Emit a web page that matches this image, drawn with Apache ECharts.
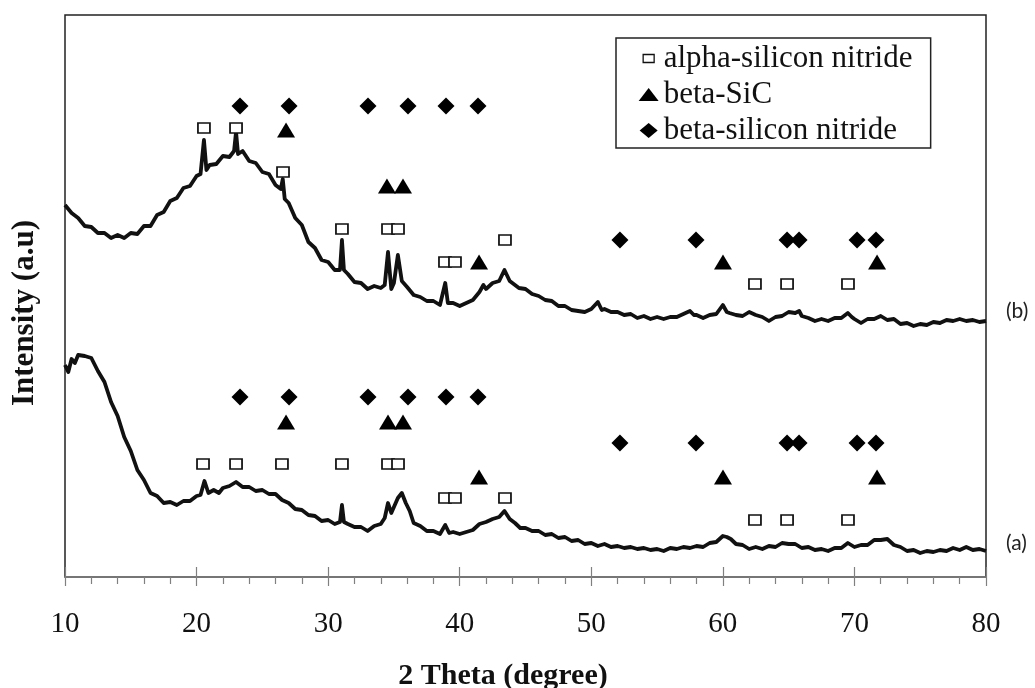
<!DOCTYPE html>
<html>
<head>
<meta charset="utf-8">
<script src="https://cdn.jsdelivr.net/npm/echarts@6/dist/echarts.min.js"></script>
<style>
html,body{margin:0;padding:0;background:#fff;}
#chart{width:1035px;height:688px;}
</style>
</head>
<body>
<div id="chart"></div>
<script>
// ---- data (2-theta in degrees, intensity in arbitrary units) ----
var xTicks = [10, 20, 30, 40, 50, 60, 70, 80];

var curveB = [[10.0,372],[10.5,364],[11.0,359],[11.5,351],[12.0,350],[12.5,344],[13.0,344],[13.5,339],[14.0,342],[14.5,339],[15.0,344],[15.5,343],[16.0,351],[16.5,351],[17.0,362],[17.5,365],[18.0,376],[18.5,379],[19.0,389],[19.5,391],[20.0,401],[20.3,403],[20.56,437],[20.75,407],[21.0,412],[21.5,413],[22.0,421],[22.5,420],[22.85,426],[23.0,445],[23.15,423],[23.5,426],[24.0,416],[24.5,414],[25.0,405],[25.5,403],[26.0,392],[26.4,388],[26.55,398],[26.7,378],[27.0,374],[27.5,359],[28.0,352],[28.5,335],[29.0,329],[29.5,317],[30.0,315],[30.5,307],[30.9,307],[31.05,337],[31.2,307],[31.5,303],[32.0,295],[32.5,294],[33.0,288],[33.5,291],[34.0,289],[34.3,292],[34.55,325],[34.8,288],[35.0,294],[35.3,322],[35.6,296],[36.0,290],[36.5,282],[37.0,280],[37.5,276],[38.0,276],[38.5,272],[38.9,294],[39.1,274],[39.5,274],[40.0,271],[40.5,274],[41.0,277],[41.5,285],[41.8,292],[42.0,288],[42.5,294],[43.0,296],[43.4,307],[43.8,296],[44.2,292],[44.5,289],[45.0,288],[45.5,283],[46.0,281],[46.5,277],[47.0,276],[47.5,271],[48.0,271],[48.5,267],[49.0,266],[49.5,265],[50.0,268],[50.5,275],[50.8,267],[51.0,268],[51.5,265],[52.0,265],[52.5,262],[53.0,263],[53.5,259],[54.0,261],[54.5,258],[55.0,260],[55.5,258],[56.0,260],[56.5,260],[57.0,263],[57.5,266],[57.8,262],[58.0,262],[58.5,259],[59.0,262],[59.5,263],[60.0,272],[60.3,265],[60.5,264],[61.0,262],[61.5,261],[62.0,265],[62.5,262],[63.0,260],[63.5,256],[64.0,260],[64.5,261],[65.0,265],[65.5,264],[65.8,266],[66.0,261],[66.5,259],[67.0,256],[67.5,258],[68.0,256],[68.5,259],[69.0,259],[69.5,264],[69.8,260],[70.0,258],[70.5,254],[71.0,258],[71.5,258],[72.0,261],[72.5,257],[73.0,258],[73.5,253],[74.0,254],[74.5,251],[75.0,253],[75.5,252],[76.0,255],[76.5,254],[77.0,257],[77.5,256],[78.0,258],[78.5,256],[79.0,257],[79.5,255],[80.0,256]];

var curveA = [[10.0,212],[10.25,205],[10.5,218],[10.75,214],[11.0,222],[11.5,221],[12.0,219],[12.5,206],[13.0,195],[13.5,175],[14.0,161],[14.5,140],[15.0,126],[15.5,107],[16.0,97],[16.5,84],[17.0,81],[17.5,74],[18.0,75],[18.5,72],[19.0,76],[19.5,76],[20.0,81],[20.3,82],[20.6,96],[20.9,84],[21.3,87],[21.7,84],[22.0,89],[22.5,91],[23.0,95],[23.5,90],[24.0,90],[24.5,86],[25.0,87],[25.5,83],[26.0,83],[26.5,77],[27.0,74],[27.5,68],[28.0,67],[28.5,62],[29.0,61],[29.5,56],[30.0,57],[30.5,53],[30.9,55],[31.05,72],[31.2,55],[31.5,53],[32.0,50],[32.5,50],[33.0,46],[33.5,51],[34.0,53],[34.3,59],[34.55,74],[34.8,64],[35.0,70],[35.3,79],[35.6,84],[35.9,74],[36.2,66],[36.5,54],[37.0,51],[37.5,46],[38.0,46],[38.5,43],[38.9,52],[39.2,44],[39.5,45],[40.0,43],[40.5,45],[41.0,47],[41.5,53],[42.0,55],[42.5,58],[43.0,60],[43.4,66],[43.8,58],[44.2,54],[44.6,49],[45.0,49],[45.5,46],[46.0,46],[46.5,42],[47.0,43],[47.5,39],[48.0,40],[48.5,36],[49.0,37],[49.5,33],[50.0,34],[50.5,31],[51.0,33],[51.5,30],[52.0,31],[52.5,29],[53.0,30],[53.5,28],[54.0,29],[54.5,27],[55.0,28],[55.5,26],[56.0,29],[56.5,28],[57.0,30],[57.5,29],[58.0,31],[58.5,30],[59.0,34],[59.5,35],[60.0,41],[60.3,40],[60.6,38],[61.0,33],[61.5,32],[62.0,28],[62.5,30],[63.0,28],[63.5,31],[64.0,30],[64.5,34],[65.0,33],[65.5,33],[66.0,29],[66.5,30],[67.0,27],[67.5,28],[68.0,26],[68.5,29],[69.0,29],[69.5,34],[70.0,30],[70.5,32],[71.0,32],[71.5,37],[72.0,37],[72.5,38],[73.0,32],[73.5,30],[74.0,26],[74.5,27],[75.0,24],[75.5,26],[76.0,25],[76.5,27],[77.0,26],[77.5,29],[78.0,27],[78.5,30],[79.0,27],[79.5,28],[80.0,26]];

var alphaSiN = [[20.56,449],[23.0,449],[26.57,405],[31.05,348],[34.55,348],[35.31,348],[38.88,315],[39.64,315],[43.44,337],[62.44,293],[64.88,293],[69.51,293],
                [20.49,113],[23.0,113],[26.49,113],[31.05,113],[34.55,113],[35.31,113],[38.88,79],[39.64,79],[43.44,79],[62.44,57],[64.88,57],[69.51,57]];

var betaSiC = [[26.8,447],[34.47,391],[35.69,391],[41.47,315],[60.01,315],[71.72,315],
               [26.8,155],[34.55,155],[35.69,155],[41.47,100],[60.01,100],[71.72,100]];

var betaSiN = [[23.3,471],[27.03,471],[33.03,471],[36.07,471],[38.96,471],[41.39,471],[52.18,337],[57.96,337],[64.88,337],[65.79,337],[70.2,337],[71.64,337],
               [23.3,180],[27.03,180],[33.03,180],[36.07,180],[38.96,180],[41.39,180],[52.18,134],[57.96,134],[64.88,134],[65.79,134],[70.2,134],[71.64,134]];

var seriesNames = ['alpha-silicon nitride', 'beta-SiC', 'beta-silicon nitride'];
var curveLabels = ['(b)', '(a)'];

var serif = "'Liberation Serif','Times New Roman',serif";
var chart = echarts.init(document.getElementById('chart'), null, {renderer: 'canvas'});

var option = {
  animation: false,
  backgroundColor: '#fff',
  grid: {left: 65, right: 49, top: 15, bottom: 111, show: true, borderColor: '#222', borderWidth: 1.5, backgroundColor: 'transparent'},
  xAxis: [{
    type: 'value', min: xTicks[0], max: xTicks[xTicks.length - 1], interval: 10,
    axisLine: {lineStyle: {color: '#808080', width: 1.5}},
    axisTick: {show: true, length: 9, lineStyle: {color: '#808080', width: 1.2}},
    minorTick: {show: true, splitNumber: 5, length: 7, lineStyle: {color: '#808080', width: 1.2}},
    axisLabel: {fontFamily: serif, fontSize: 29, color: '#111', margin: 33},
    splitLine: {show: false}
  }, {
    type: 'value', min: xTicks[0], max: xTicks[xTicks.length - 1], interval: 10, position: 'bottom',
    axisLine: {show: false},
    axisTick: {show: true, inside: true, length: 10, lineStyle: {color: '#808080', width: 1.2}},
    axisLabel: {show: false}, splitLine: {show: false}
  }],
  yAxis: {type: 'value', min: 0, max: 562, show: false},
  legend: {
    orient: 'vertical', left: 616, top: 38,
    padding: [5, 9, 2, 22], itemGap: 5, itemWidth: 20, itemHeight: 16,
    borderColor: '#222', borderWidth: 1.5, backgroundColor: '#fff',
    textStyle: {fontFamily: serif, fontSize: 31, lineHeight: 29, color: '#111', width: 258},
    data: [
      {name: seriesNames[0], icon: 'path://M0,0M20,16M4.5,4H15.5V12H4.5Z', itemStyle: {color: '#fff', borderColor: '#111', borderWidth: 1.3, opacity: 1}},
      {name: seriesNames[1], icon: 'path://M0,0M20,16M0,14.5L10,1.5L20,14.5Z', itemStyle: {color: '#000', borderWidth: 0, opacity: 1}},
      {name: seriesNames[2], icon: 'path://M0,0M20,16M1,8L10,0.5L19,8L10,15.5Z', itemStyle: {color: '#000', borderWidth: 0, opacity: 1}}
    ]
  },
  graphic: [
    {type: 'text', x: 503, y: 676, style: {text: '2 Theta (degree)', font: "bold 30px 'Liberation Serif','Times New Roman',serif", fill: '#111', align: 'center', verticalAlign: 'middle'}},
    {type: 'text', x: 25, y: 313, rotation: Math.PI / 2, style: {text: 'Intensity (a.u)', font: "bold 31px 'Liberation Serif','Times New Roman',serif", fill: '#111', align: 'center', verticalAlign: 'middle'}},
    {type: 'text', x: 1006, y: 311, style: {text: curveLabels[0], font: "21px Lato, 'DejaVu Sans', sans-serif", fill: '#222', verticalAlign: 'middle'}},
    {type: 'text', x: 1006, y: 543, style: {text: curveLabels[1], font: "21px Lato, 'DejaVu Sans', sans-serif", fill: '#222', verticalAlign: 'middle'}}
  ],
  series: [
    {name: 'curve (b)', type: 'line', data: curveB, showSymbol: false, silent: true, z: 2,
     lineStyle: {color: '#111', width: 3.8, join: 'round'}},
    {name: 'curve (a)', type: 'line', data: curveA, showSymbol: false, silent: true, z: 2,
     lineStyle: {color: '#111', width: 3.8, join: 'round'}},
    {name: seriesNames[0], type: 'scatter', data: alphaSiN, symbol: 'rect', symbolSize: [12, 10], z: 4,
     itemStyle: {color: '#fff', borderColor: '#111', borderWidth: 1.6, opacity: 1}},
    {name: seriesNames[1], type: 'scatter', data: betaSiC, symbol: 'triangle', symbolSize: [18, 15], z: 4,
     itemStyle: {color: '#000', opacity: 1}},
    {name: seriesNames[2], type: 'scatter', data: betaSiN, symbol: 'diamond', symbolSize: [17, 17], z: 4,
     itemStyle: {color: '#000', opacity: 1}}
  ]
};
chart.setOption(option);
</script>
</body>
</html>
